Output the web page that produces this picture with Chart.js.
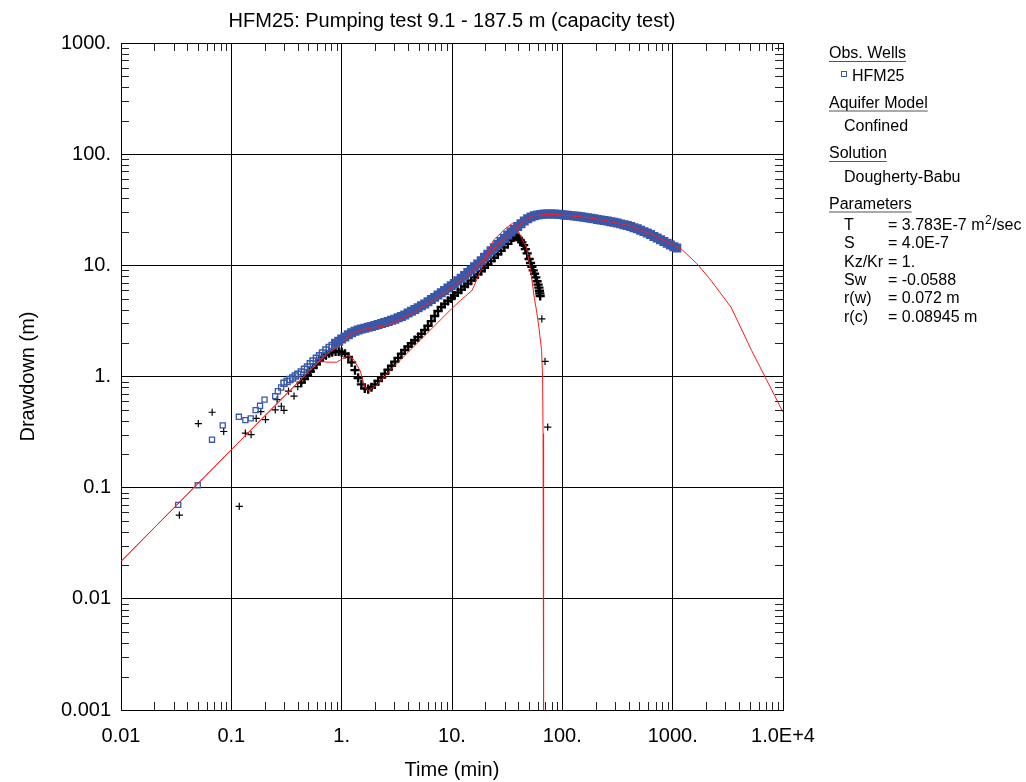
<!DOCTYPE html>
<html>
<head>
<meta charset="utf-8">
<script src="https://cdn.jsdelivr.net/npm/chart.js@4.4.0/dist/chart.umd.min.js"></script>
<style>html,body{margin:0;padding:0;background:#fff;}</style>
</head>
<body>
<canvas id="c" width="1026" height="782"></canvas>
<script>
// axis ticks
var xTicks = [0.01, 0.1, 1, 10, 100, 1000, 10000];
var xTickLabels = ['0.01', '0.1', '1.', '10.', '100.', '1000.', '1.0E+4'];
var yTicks = [0.001, 0.01, 0.1, 1, 10, 100, 1000];
var yTickLabels = ['0.001', '0.01', '0.1', '1.', '10.', '100.', '1000.'];

// HFM25 drawdown (blue squares)
var hfmTime = [0.033, 0.0496, 0.0668, 0.0836, 0.117, 0.134, 0.150, 0.166, 0.182, 0.200, 0.25, 0.264, 0.283,
  0.30, 0.32, 0.34, 0.36, 0.38, 0.40, 0.43, 0.46, 0.49, 0.52, 0.55, 0.59, 0.63, 0.67, 0.72, 0.77, 0.82, 0.88, 0.94,
  1.0, 1.07, 1.15, 1.23, 1.32, 1.41, 1.51, 1.62, 1.74, 1.86, 2.0, 2.14, 2.3, 2.46, 2.64, 2.83, 3.03, 3.25, 3.48, 3.73,
  4.0, 4.29, 4.6, 4.93, 5.28, 5.66, 6.06, 6.5, 6.96, 7.46, 8.0, 8.57, 9.19, 9.85, 10.5, 11.3, 12.1, 13.0, 13.9, 14.9,
  16.0, 17.1, 18.4, 19.7, 21.1, 22.6, 24.2, 26.0, 27.8, 29.8, 32.0, 34.3, 36.7, 39.4, 42.2, 45.2, 48.5, 52, 55.7, 59.7,
  64, 68.6, 73.5, 78.8, 84.4, 90.5, 97, 104, 111, 119, 128, 137, 147, 157, 169, 181, 194, 208, 223, 239, 256, 274, 294,
  315, 338, 362, 388, 416, 446, 478, 512, 549, 588, 630, 676, 724, 776, 832, 891, 955, 1024, 1090];
var hfmDrawdown = [0.070, 0.105, 0.27, 0.363, 0.434, 0.405, 0.42, 0.498, 0.545, 0.62, 0.665, 0.737, 0.796,
  0.87, 0.90, 0.94, 0.97, 1.01, 1.05, 1.10, 1.16, 1.22, 1.30, 1.38, 1.46, 1.54, 1.63, 1.73, 1.82, 1.90, 1.99, 2.08,
  2.17, 2.27, 2.38, 2.47, 2.55, 2.62, 2.67, 2.72, 2.77, 2.82, 2.88, 2.94, 3.0, 3.06, 3.13, 3.2, 3.28, 3.37, 3.47, 3.58,
  3.72, 3.86, 4.0, 4.15, 4.32, 4.5, 4.7, 4.92, 5.15, 5.4, 5.67, 5.95, 6.25, 6.55, 6.88, 7.25, 7.65, 8.1, 8.6, 9.1,
  9.7, 10.3, 11.0, 11.8, 12.6, 13.5, 14.4, 15.4, 16.4, 17.5, 18.7, 19.9, 21.1, 22.4, 23.7, 25.0, 26.2, 27.2, 27.9, 28.4,
  28.7, 28.9, 29.0, 29.0, 28.9, 28.8, 28.6, 28.4, 28.2, 28.0, 27.8, 27.6, 27.4, 27.1, 26.8, 26.5, 26.2, 25.9, 25.6, 25.3, 25.0, 24.7, 24.4,
  24.0, 23.6, 23.2, 22.8, 22.3, 21.8, 21.3, 20.7, 20.1, 19.5, 18.9, 18.2, 17.6, 17.0, 16.4, 15.8, 15.2, 14.7, 14.3];

// second data series (black crosses)
var crossTime = [0.0338, 0.0502, 0.067, 0.0853, 0.118, 0.134, 0.151, 0.168, 0.185, 0.204, 0.25, 0.26, 0.284, 0.30, 0.33, 0.37,
  0.40, 0.43, 0.46, 0.49, 0.52, 0.55, 0.59, 0.63, 0.67, 0.72, 0.77, 0.82, 0.88, 0.94, 1.0, 1.07, 1.15, 1.23, 1.32, 1.41,
  1.51, 1.62, 1.74, 1.86, 2.0, 2.14, 2.3, 2.46, 2.64, 2.83, 3.03, 3.25, 3.48, 3.73, 4.0, 4.29, 4.6, 4.93, 5.28, 5.66,
  6.06, 6.5, 6.96, 7.46, 8.0, 8.57, 9.19, 9.85, 10.5, 11.3, 12.1, 13.0, 13.9, 14.9, 16.0, 17.1, 18.4, 19.7, 21.1, 22.6,
  24.2, 26.0, 27.8, 29.8, 32.0, 34.3, 36.0, 37.3, 38.5, 40.0, 41.5, 43.0, 44.6, 46.2, 48.0, 50.0, 51.5, 53.0, 54.5, 56.0,
  57.5, 59.0, 60.3, 61.3, 62.0, 62.5, 63.0, 65.2, 69.7, 73.7];
var crossDrawdown = [0.0566, 0.376, 0.477, 0.32, 0.0678, 0.309, 0.30, 0.42, 0.484, 0.41, 0.50, 0.62, 0.54, 0.495, 0.74, 0.665,
  0.81, 0.88, 0.95, 1.03, 1.11, 1.19, 1.29, 1.39, 1.48, 1.56, 1.62, 1.66, 1.68, 1.68, 1.66, 1.60, 1.50, 1.34, 1.14, 0.97,
  0.85, 0.78, 0.77, 0.80, 0.85, 0.91, 0.98, 1.06, 1.15, 1.25, 1.36, 1.47, 1.6, 1.73, 1.86, 1.99, 2.12, 2.26, 2.42, 2.62,
  2.86, 3.15, 3.5, 3.88, 4.22, 4.5, 4.78, 5.05, 5.35, 5.7, 6.05, 6.45, 6.85, 7.3, 7.8, 8.3, 8.9, 9.5, 10.2, 10.9,
  11.7, 12.6, 13.5, 14.5, 15.6, 16.8, 17.8, 18.6, 18.3, 17.6, 16.9, 16.1, 15.2, 14.0, 12.8, 11.4, 10.5, 9.7, 9.0, 8.4,
  7.8, 7.2, 6.7, 6.3, 5.9, 5.6, 5.3, 3.3, 1.37, 0.35];

// type curves (red)
var fitATime = [0.01, 0.276, 0.55, 0.637, 0.75, 0.9, 1.08, 1.27, 1.5, 1.8, 2.55, 3.5, 4.5, 6.5, 8.9, 13.7, 18, 22, 27.2, 32,
  38.4, 45, 50, 55.6, 70, 89, 150, 220, 400, 625, 800, 1000, 1200, 1650, 2170, 3380, 5200, 6900, 10000];
var fitADrawdown = [0.0217, 0.608, 1.21, 1.39, 1.6, 1.83, 2.17, 2.48, 2.62, 2.72, 2.87, 3.3, 3.78, 4.7, 5.8, 8.1, 10.6, 12.9, 15.8, 18.4,
  21.7, 24.8, 26.7, 28.0, 28.6, 28.6, 27.3, 25.8, 22.8, 19.2, 17.1, 15.3, 14.0, 10.4, 7.55, 4.2, 1.71, 0.985, 0.478];
var fitBTime = [0.01, 0.276, 0.55, 0.637, 0.73, 0.9, 1.14, 1.27, 1.47, 1.62, 1.75, 2.07, 2.73, 9.9, 11.9, 15.2, 17.1, 19.8,
  23.6, 30.3, 35.3, 38.4, 44.6, 47.3, 51.6, 55.6, 58.4, 61.3, 64.9, 66.2, 66.9, 67.5, 67.6, 67.7];
var fitBDrawdown = [0.0217, 0.608, 1.21, 1.39, 1.345, 1.345, 1.545, 1.44, 1.13, 0.80, 0.75, 0.83, 1.13, 4.06, 4.82, 5.94, 7.8, 11.0,
  16.7, 21.3, 23.9, 22.0, 16.1, 14.5, 8.97, 5.17, 3.9, 2.78, 1.71, 0.99, 0.305, 0.0386, 0.005, 0.0008];

function pairs(xs, ys) {
  return xs.map(function (x, i) { return { x: x, y: ys[i] }; });
}

var FONT = 'Liberation Sans, Arial, sans-serif';
var BLUE = '#3a58a8';

// title, minor ticks and the text box on the right
var decoPlugin = {
  id: 'deco',
  afterDraw: function (chart) {
    var ctx = chart.ctx, a = chart.chartArea;
    var xs = chart.scales.x, ys = chart.scales.y;
    ctx.save();
    ctx.strokeStyle = '#222';
    ctx.lineWidth = 1;
    ctx.beginPath();
    for (var e = -2; e < 4; e++) {
      for (var k = 2; k < 10; k++) {
        var px = Math.round(xs.getPixelForValue(k * Math.pow(10, e))) + 0.5;
        ctx.moveTo(px, a.bottom); ctx.lineTo(px, a.bottom - 8);
        ctx.moveTo(px, a.top); ctx.lineTo(px, a.top + 8);
      }
    }
    for (var e2 = -3; e2 < 3; e2++) {
      for (var k2 = 2; k2 < 10; k2++) {
        var py = Math.round(ys.getPixelForValue(k2 * Math.pow(10, e2))) + 0.5;
        ctx.moveTo(a.left, py); ctx.lineTo(a.left + 8, py);
        ctx.moveTo(a.right, py); ctx.lineTo(a.right - 8, py);
      }
    }
    ctx.stroke();

    ctx.fillStyle = '#000';
    ctx.font = '20px ' + FONT;
    ctx.textAlign = 'center';
    ctx.textBaseline = 'alphabetic';
    ctx.fillText('HFM25: Pumping test 9.1 - 187.5 m (capacity test)', (a.left + a.right) / 2, 27);

    // side panel
    ctx.textAlign = 'left';
    ctx.font = '16px ' + FONT;
    function header(txt, y) {
      ctx.fillText(txt, 829, y);
      var w = ctx.measureText(txt).width;
      ctx.save();
      ctx.strokeStyle = '#555';
      ctx.beginPath();
      ctx.moveTo(829, y + 3.5); ctx.lineTo(829 + w, y + 3.5);
      ctx.stroke();
      ctx.restore();
    }
    header('Obs. Wells', 58);
    ctx.save();
    ctx.strokeStyle = BLUE;
    ctx.strokeRect(841.5, 71.5, 5, 5);
    ctx.restore();
    ctx.fillText('HFM25', 852, 80.5);
    header('Aquifer Model', 107.5);
    ctx.fillText('Confined', 844, 131);
    header('Solution', 158);
    ctx.fillText('Dougherty-Babu', 844, 181.5);
    header('Parameters', 208.5);
    var rows = [['T', '= 3.783E-7 m'], ['S', '= 4.0E-7'], ['Kz/Kr', '= 1.'], ['Sw', '= -0.0588'], ['r(w)', '= 0.072 m'], ['r(c)', '= 0.08945 m']];
    for (var i = 0; i < rows.length; i++) {
      var by = 230 + i * 18.3;
      ctx.fillText(rows[i][0], 844, by);
      ctx.fillText(rows[i][1], 888, by);
      if (i === 0) {
        var w0 = ctx.measureText(rows[i][1]).width;
        ctx.font = '12px ' + FONT;
        ctx.fillText('2', 888 + w0 + 0.5, by - 6);
        var w2 = ctx.measureText('2').width;
        ctx.font = '16px ' + FONT;
        ctx.fillText('/sec', 888 + w0 + w2 + 1, by);
      }
    }
    ctx.restore();
  }
};

// early/late scattered points get small markers, the densely logged part heavier ones
function bySection(cuts, vals) {
  return function (c) {
    for (var i = 0; i < cuts.length; i++) if (c.dataIndex < cuts[i]) return vals[i];
    return vals[vals.length - 1];
  };
}
var crossEnd = crossTime.length - 3;

var ctx = document.getElementById('c');
var chart = new Chart(ctx, {
  type: 'scatter',
  data: {
    datasets: [
      {
        label: 'fit A',
        data: pairs(fitATime, fitADrawdown),
        showLine: true,
        borderColor: '#ff1a1a',
        borderWidth: 1,
        pointRadius: 0,
        tension: 0
      },
      {
        label: 'fit B',
        data: pairs(fitBTime, fitBDrawdown),
        showLine: true,
        borderColor: '#ff1a1a',
        borderWidth: 1,
        pointRadius: 0,
        tension: 0
      },
      {
        label: 'HFM25',
        data: pairs(hfmTime, hfmDrawdown),
        pointStyle: 'rect',
        pointRadius: bySection([13, 30], [3.6, 4.2, 4.8]),
        borderWidth: bySection([13, 30], [1.3, 1.5, 2.2]),
        borderColor: BLUE,
        backgroundColor: bySection([30], ['rgba(255,255,255,0)', BLUE])
      },
      {
        label: 'crosses',
        data: pairs(crossTime, crossDrawdown),
        pointStyle: 'cross',
        pointRadius: bySection([17, crossEnd], [3.6, 4.6, 3.6]),
        borderWidth: bySection([17, crossEnd], [1.2, 2.4, 1.2]),
        borderColor: '#000'
      }
    ]
  },
  options: {
    responsive: false,
    animation: false,
    devicePixelRatio: 1,
    events: [],
    layout: { padding: { left: 0, right: 243, top: 43, bottom: 0 } },
    plugins: { legend: { display: false }, tooltip: { enabled: false }, title: { display: false } },
    scales: {
      x: {
        type: 'logarithmic',
        min: 0.01,
        max: 10000,
        afterBuildTicks: function (s) { s.ticks = xTicks.map(function (v) { return { value: v }; }); },
        afterFit: function (s) { s.height = 72; },
        ticks: {
          autoSkip: false, maxRotation: 0, padding: 14, color: '#000',
          font: { size: 20, family: FONT },
          callback: function (v, i) { return xTickLabels[i]; }
        },
        grid: { color: '#000', lineWidth: 1, drawTicks: false },
        border: { color: '#000' },
        title: { display: true, text: 'Time (min)', color: '#000', font: { size: 20, family: FONT }, padding: { top: 0, bottom: 0 } }
      },
      y: {
        type: 'logarithmic',
        min: 0.001,
        max: 1000,
        afterBuildTicks: function (s) { s.ticks = yTicks.map(function (v) { return { value: v }; }); },
        afterFit: function (s) { s.width = 121; },
        ticks: {
          autoSkip: false, padding: 10, color: '#000',
          font: { size: 20, family: FONT },
          callback: function (v, i) { return yTickLabels[i]; }
        },
        grid: { color: '#000', lineWidth: 1, drawTicks: false },
        border: { color: '#000' },
        title: { display: true, text: 'Drawdown (m)', color: '#000', font: { size: 20, family: FONT }, padding: { top: 16, bottom: 0 } }
      }
    }
  },
  plugins: [decoPlugin]
});
</script>
</body>
</html>
